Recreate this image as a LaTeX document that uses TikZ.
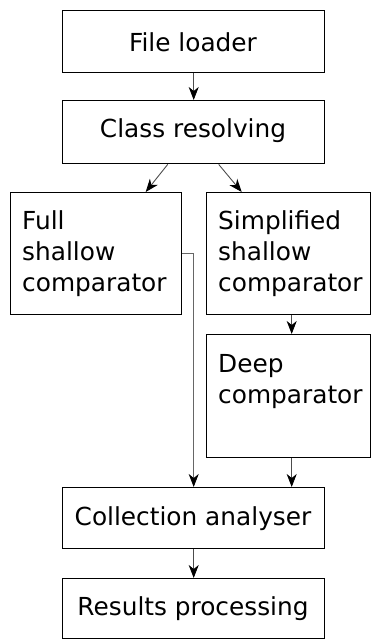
\documentclass[tikz,border=0pt]{standalone}
\usepackage{fontspec}
\setmainfont{DejaVu Sans}
\usetikzlibrary{arrows.meta,calc}
\begin{document}
\begin{tikzpicture}[x=1pt,y=-1pt,
  box/.style={draw=black,line width=1.4pt,inner sep=0pt,anchor=north west},
  lbl/.style={inner sep=0pt,font=\fontsize{24.8}{31}\selectfont},
  tip/.style={-{Stealth[length=13pt,width=10pt,inset=4pt,black]}},
  arr/.style={draw=black!70,line width=0.9pt,tip},
  thin/.style={draw=black!60,line width=0.9pt,tip}]
\useasboundingbox (0,0) rectangle (371,639);
% boxes
\node[box,minimum width=262pt,minimum height=62pt] (load) at (62,10) {};
\node[box,minimum width=262pt,minimum height=63pt] (cls) at (62,100) {};
\node[box,minimum width=171pt,minimum height=122pt] (full) at (10,192) {};
\node[box,minimum width=164pt,minimum height=122pt] (simp) at (205.5,192) {};
\node[box,minimum width=164pt,minimum height=123pt] (deep) at (205.5,334) {};
\node[box,minimum width=262pt,minimum height=61pt] (coll) at (62,487) {};
\node[box,minimum width=262pt,minimum height=60pt] (res) at (62,578) {};
% labels
\node[lbl,anchor=base] (tload) at (193,52) {File loader};
\node[lbl,anchor=base] (tcls) at (193,138) {Class resolving};
\node[lbl,anchor=base west] (tfull1) at (22,229) {Full};
\node[lbl,anchor=base west] (tfull2) at (22,260) {shallow};
\node[lbl,anchor=base west] (tfull3) at (22,291) {comparator};
\node[lbl,anchor=base west] (tsimp1) at (218,229) {Simplified};
\node[lbl,anchor=base west] (tsimp2) at (218,260) {shallow};
\node[lbl,anchor=base west] (tsimp3) at (218,291) {comparator};
\node[lbl,anchor=base west] (tdeep1) at (218,372) {Deep};
\node[lbl,anchor=base west] (tdeep2) at (218,403) {comparator};
\node[lbl,anchor=base] (tcoll) at (193,525) {Collection analyser};
\node[lbl,anchor=base] (tres) at (193,615) {Results processing};
% connectors
\coordinate (clsL) at ($(cls.south)+(-26,0)$);
\coordinate (clsR) at ($(cls.south)+(25,0)$);
\coordinate (fullT) at ($(full.north)+(49.5,0)$);
\coordinate (simpT) at ($(simp.north)+(-46.5,0)$);
\coordinate (simpB) at ($(simp.south)+(3.5,0)$);
\coordinate (deepB) at ($(deep.south)+(3.5,0)$);
\draw[arr] (load.south) -- (cls.north);
\draw[arr] (clsL) -- (fullT);
\draw[arr] (clsR) -- (simpT);
\draw[arr] (simpB) -- (simpB |- deep.north);
\draw[arr] (deepB) -- (deepB |- coll.north);
\draw[thin] (full.east) -| (coll.north);
\draw[arr] (coll.south) -- (res.north);
\end{tikzpicture}
\end{document}
